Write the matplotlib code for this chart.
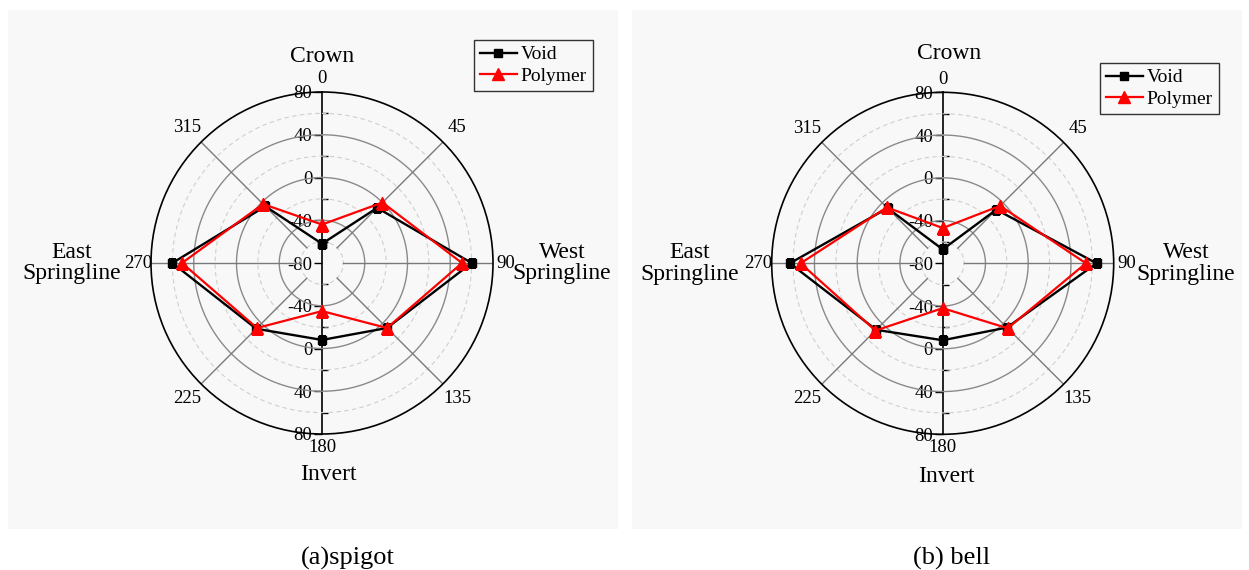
import numpy as np
import matplotlib
matplotlib.use('Agg')
from matplotlib import pyplot as plt
from matplotlib.patches import Rectangle

plt.rcParams['font.family'] = ['Liberation Serif', 'DejaVu Serif']

# 测点角度 (deg, 顺时针, 0 = 管顶)
angles = [0, 45, 90, 135, 180, 225, 270, 315]
angle_labels = ['0', '45', '90', '135', '180', '225', '270', '315']

# 插口 spigot
spigot_void = [-62, -7, 60, 6, -8, 7, 60, -5]
spigot_polymer = [-44, 0, 51, 6, -35, 6, 51, -2]
# 承口 bell
bell_void = [-67, -9, 64, 5, -8, 8, 63, -7]
bell_polymer = [-47, -4, 54, 6, -38, 9, 53, -6]

# 径向坐标轴 (上半部 / 下半部)
r_ticks = [80, 40, 0, -40, -80, -40, 0, 40, 80]

panel_color = '#f8f8f8'
rmin, rmax = -80, 80


def closed(vals):
    return list(vals) + [vals[0]]


def draw_chart(fig, x0, y0, void, polymer, leg_xy, names_pos):
    w, h = 342 / 1249, 342 / 570

    # 竖直的径向轴, 用普通坐标轴画在极坐标图下面
    ax2 = fig.add_axes([x0, y0, w, h], facecolor='none')
    ax2.set_xlim(-1, 1)
    ax2.set_ylim(-160, 160)
    for s in ['top', 'right', 'bottom']:
        ax2.spines[s].set_visible(False)
    ax2.spines['left'].set_position(('data', 0))
    ax2.spines['left'].set_linewidth(1.2)
    pos = [v + 80 for v in r_ticks[:5]] + [-(v + 80) for v in r_ticks[5:]]
    ax2.set_yticks(pos)
    ax2.set_yticklabels([str(v) for v in r_ticks])
    ax2.set_yticks(np.arange(-140, 160, 40), minor=True)
    ax2.tick_params(axis='y', which='major', direction='out', length=6, width=1,
                    labelsize=13.5, pad=1)
    ax2.tick_params(axis='y', which='minor', direction='in', length=4, width=1)
    ax2.set_xticks([])

    ax = fig.add_axes([x0, y0, w, h], projection='polar', facecolor='none')
    ax.set_theta_zero_location('N')
    ax.set_theta_direction(-1)
    ax.set_ylim(rmin, rmax)
    ax.set_yticks([])
    ax.grid(False)

    # 网格: 实线圆 40 一格, 虚线圆 20 一格
    t = np.linspace(0, 2 * np.pi, 361)
    for r in [-40, 0, 40]:
        ax.plot(t, np.full_like(t, r), color='#8a8a8a', lw=1.0, zorder=1)
    for r in [-60, -20, 20, 60]:
        ax.plot(t, np.full_like(t, r), color='#cfcfcf', lw=0.8, ls=(0, (4, 3)), zorder=1)
    for a in [45, 90, 135, 225, 270, 315]:
        ax.plot([np.radians(a)] * 2, [-60, 80], color='#7a7a7a', lw=1.0, zorder=1)

    ax.spines['polar'].set_color('black')
    ax.spines['polar'].set_linewidth(1.2)
    ax.set_xticks(np.radians(angles))
    ax.set_xticklabels(angle_labels)
    ax.tick_params(axis='x', pad=-1, labelsize=13.5)
    # 斜向的角度标签再往外放一点
    for i, tk in enumerate(ax.xaxis.get_major_ticks()):
        if angles[i] % 90:
            tk.set_pad(4)

    th = np.radians(closed(angles))
    ax.plot(th, closed(void), color='black', lw=1.7, marker='s', ms=6,
            label='Void', zorder=3)
    ax.plot(th, closed(polymer), color='red', lw=1.6, marker='^', ms=8,
            label='Polymer', zorder=4)

    ax.legend(loc='upper left', bbox_to_anchor=leg_xy, bbox_transform=fig.transFigure,
              borderaxespad=0, fontsize=14, frameon=True, fancybox=False,
              edgecolor='#333333', facecolor=panel_color, framealpha=1,
              handlelength=1.9, handletextpad=0.2, labelspacing=0.2, borderpad=0.3)

    cx, cy, ix, iy, ex, wx = names_pos
    ax.text(cx, cy, 'Crown', transform=ax.transAxes, ha='center', va='center', fontsize=17)
    ax.text(ix, iy, 'Invert', transform=ax.transAxes, ha='center', va='center', fontsize=17)
    ax.text(ex, 0.5, 'East\nSpringline', transform=ax.transAxes, ha='center',
            va='center', fontsize=17, linespacing=1.05)
    ax.text(wx, 0.5, 'West\nSpringline', transform=ax.transAxes, ha='center',
            va='center', fontsize=17, linespacing=1.05)


fig = plt.figure(figsize=(12.49, 5.70), dpi=100, facecolor='white')

# 两块浅灰底板
for px in [8, 632]:
    fig.patches.append(Rectangle((px / 1249, 41 / 570), 610 / 1249, 519 / 570,
                                 transform=fig.transFigure, facecolor=panel_color,
                                 edgecolor='none', zorder=-10))

draw_chart(fig, 151 / 1249, 136 / 570, spigot_void, spigot_polymer,
           (474 / 1249, 1 - 40 / 570),
           (0.5, 1.105, 0.52, -0.118, -0.231, 1.202))
draw_chart(fig, 771.7 / 1249, 135.7 / 570, bell_void, bell_polymer,
           (1100 / 1249, 1 - 63 / 570),
           (0.52, 1.112, 0.51, -0.124, -0.239, 1.211))

fig.text(348 / 1249, 1 - 558 / 570, '(a)spigot', ha='center', va='center', fontsize=19)
fig.text(952 / 1249, 1 - 558 / 570, '(b) bell', ha='center', va='center', fontsize=19)

fig.savefig('out.png', dpi=100, facecolor='white')
